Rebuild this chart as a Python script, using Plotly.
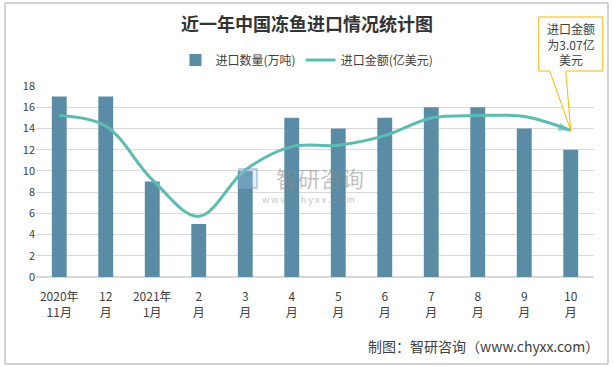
import plotly.graph_objects as go

categories = ["2020年<br>11月", "12<br>月", "2021年<br>1月", "2<br>月", "3<br>月", "4<br>月",
              "5<br>月", "6<br>月", "7<br>月", "8<br>月", "9<br>月", "10<br>月"]
quantity = [17, 17, 9, 5, 10, 15, 14, 15, 16, 16, 14, 12]          # 万吨
amount = [3.38, 3.16, 2.04, 1.27, 2.24, 2.73, 2.76, 2.96, 3.33, 3.38, 3.36, 3.07]  # 亿美元
y_ticks = [0, 2, 4, 6, 8, 10, 12, 14, 16, 18]
y2_max = 4

W, H = 614, 367
ML, MR, MT, MB = 36, 20, 86, 90
PW, PH = W - ML - MR, H - MT - MB


def px(x):
    return (x - ML) / PW


def py(y):
    return (H - MB - y) / PH


BAR_C = "#5a8da5"
LINE_C = "#5bbdb1"
TXT = "#404040"
FONT = "Noto Sans CJK SC"

n = len(categories)
symbols = ["circle"] + ["circle"] * (n - 2) + ["arrow"]
sizes = [11] + [0] * (n - 2) + [13]

fig = go.Figure()
fig.add_trace(go.Bar(x=categories, y=quantity, name="进口数量(万吨)",
                     marker=dict(color=BAR_C, line=dict(width=0)), width=0.32))
fig.add_trace(go.Scatter(x=categories, y=amount, name="进口金额(亿美元)", yaxis="y2",
                         mode="lines+markers", line=dict(color=LINE_C, width=3, shape="spline", smoothing=1.0),
                         marker=dict(symbol=symbols, size=sizes, color=LINE_C, angleref="previous",
                                     line=dict(width=0))))

# callout bubble pointing to last point
tip_x = (n - 1 + 0.5) / n
tip_y = amount[-1] / y2_max
tip_px = ML + tip_x * PW
bx0, bx1, by0, by1 = tip_px - 32, tip_px + 32, 17, 71
path = (f"M {px(tip_px-21)} {py(by1)} L {px(bx0)} {py(by1)} L {px(bx0)} {py(by0)} "
        f"L {px(bx1)} {py(by0)} L {px(bx1)} {py(by1)} L {px(tip_px-5)} {py(by1)} "
        f"L {tip_x} {tip_y} Z")

shapes = [
    dict(type="rect", xref="paper", yref="paper", x0=px(5), x1=px(608), y0=py(364), y1=py(3),
         line=dict(color="#a6a6a6", width=1), fillcolor="rgba(0,0,0,0)", layer="below"),
    dict(type="path", xref="paper", yref="paper", path=path,
         line=dict(color="#f5b800", width=1), fillcolor="white", layer="above"),
    # watermark logo
    dict(type="rect", xref="paper", yref="paper", x0=px(239), x1=px(257), y0=py(188), y1=py(169),
         line=dict(color="rgba(120,160,210,0.45)", width=2), fillcolor="rgba(170,200,235,0.3)", layer="above"),
]

annotations = [
    dict(text="进口金额<br>为3.07亿<br>美元", xref="paper", yref="paper", x=px(tip_px), y=py(44),
         xanchor="center", yanchor="middle",
         showarrow=False, font=dict(family=FONT, size=12, color=TXT), align="center"),
    dict(text="制图：智研咨询（www.chyxx.com）", xref="paper", yref="paper", x=px(601), y=py(346),
         xanchor="right", yanchor="middle", showarrow=False, font=dict(family=FONT, size=14, color=TXT)),
    dict(text="智研咨询", xref="paper", yref="paper", x=px(320), y=py(177),
         xanchor="center", yanchor="middle",
         showarrow=False, font=dict(family=FONT, size=22, color="rgba(140,140,140,0.55)")),
    dict(text="w w w . c h y x x . c o m", xref="paper", yref="paper", x=px(308), y=py(199),
         xanchor="center", yanchor="middle",
         showarrow=False, font=dict(family=FONT, size=9, color="rgba(140,140,140,0.55)")),
]

fig.update_layout(
    width=W, height=H, margin=dict(l=ML, r=MR, t=MT, b=MB, autoexpand=False),
    paper_bgcolor="white", plot_bgcolor="white",
    title=dict(text="<b>近一年中国冻鱼进口情况统计图</b>", x=(307) / W, xanchor="center",
               y=1 - 25 / H, yanchor="middle", font=dict(family=FONT, size=18, color="#333333")),
    font=dict(family=FONT, color=TXT),
    showlegend=True,
    legend=dict(orientation="h", x=px(307), xanchor="center", y=py(60), yanchor="middle",
                font=dict(family=FONT, size=12, color=TXT), bgcolor="rgba(0,0,0,0)", itemwidth=30),
    xaxis=dict(type="category", range=[-0.5, n - 0.5], showgrid=False, showline=False, ticks="",
               automargin=False, ticklabelstandoff=11, tickfont=dict(family=FONT, size=12, color=TXT)),
    yaxis=dict(range=[0, 18], tickvals=y_ticks, showgrid=True, gridcolor="#d9d9d9", gridwidth=1,
               zeroline=True, zerolinecolor="#d9d9d9", showline=False, ticks="", automargin=False,
               tickfont=dict(family=FONT, size=11, color=TXT)),
    yaxis2=dict(range=[0, y2_max], overlaying="y", side="right", visible=False),
    shapes=shapes, annotations=annotations,
)

fig.write_html("out.html", config={"displayModeBar": False},
               post_script="document.body.style.margin='0';document.body.style.overflow='hidden';")
